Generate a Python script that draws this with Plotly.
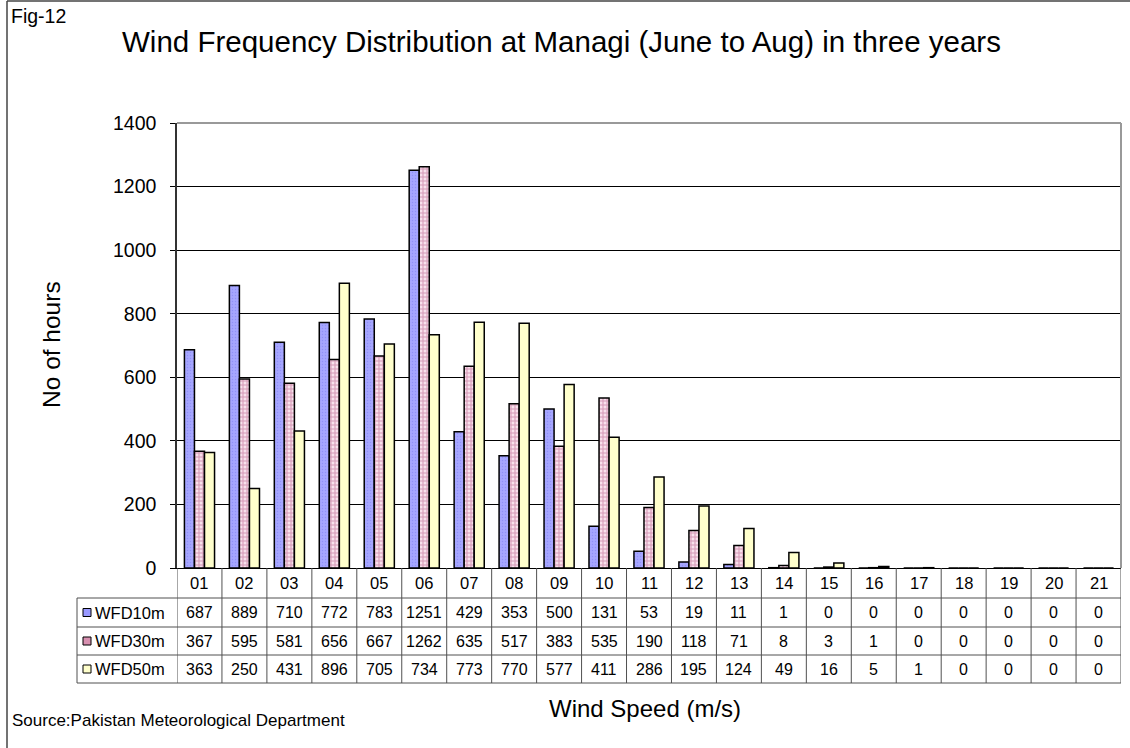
import plotly.graph_objects as go

categories = [f"{i:02d}" for i in range(1, 22)]
wfd10 = [687, 889, 710, 772, 783, 1251, 429, 353, 500, 131, 53, 19, 11, 1, 0, 0, 0, 0, 0, 0, 0]
wfd30 = [367, 595, 581, 656, 667, 1262, 635, 517, 383, 535, 190, 118, 71, 8, 3, 1, 0, 0, 0, 0, 0]
wfd50 = [363, 250, 431, 896, 705, 734, 773, 770, 577, 411, 286, 195, 124, 49, 16, 5, 1, 0, 0, 0, 0]
series_names = ["WFD10m", "WFD30m", "WFD50m"]
y_ticks = [0, 200, 400, 600, 800, 1000, 1200, 1400]

FONT = "Arial, Liberation Sans, sans-serif"
W, H = 1130, 748
L, R, T, B = 177, 1121, 123, 568
PW, PH = R - L, B - T


def px(x):
    return (x - L) / PW


def py(y):
    return (B - y) / PH


fig = go.Figure()
colors = ["#9C9CFF", "#F0C0D6", "#FFFFCC"]
swatch = ["#9999FF", "#D890B0", "#FFFFCC"]
patterns = [
    dict(shape=".", fgcolor="#7A7AF0", bgcolor="#A6A6FF", size=3, solidity=0.2),
    dict(shape="+", fgcolor="#B0507F", bgcolor="#F8E0EC", size=4, solidity=0.45),
    dict(shape=""),
]
idx = list(range(len(categories)))
for name, vals, c, p in zip(series_names, [wfd10, wfd30, wfd50], colors, patterns):
    fig.add_trace(go.Bar(
        x=idx, y=vals, name=name,
        marker=dict(color=c, line=dict(color="black", width=1.5), pattern=p),
    ))

fig.update_layout(
    width=W, height=H,
    margin=dict(l=L, r=W - R, t=T, b=H - B),
    paper_bgcolor="white", plot_bgcolor="white",
    barmode="group", bargap=0.33, bargroupgap=0,
    showlegend=False,
    font=dict(family=FONT, color="black"),
)
fig.update_xaxes(
    showticklabels=False, ticks="", showgrid=False, zeroline=False,
    showline=True, linecolor="black", linewidth=1,
    range=[-0.5, len(categories) - 0.5],
)
fig.update_yaxes(
    range=[0, 1400], tickvals=y_ticks, ticks="outside", ticklen=5, tickcolor="black",
    ticklabelstandoff=10,
    showgrid=True, gridcolor="black", gridwidth=1,
    showline=True, linecolor="#333333", linewidth=1.5,
    tickfont=dict(size=19.5, family=FONT), zeroline=False,
)

shapes = []
ann = []
grey = "#505050"
# plot area border (top / right)
shapes.append(dict(type="line", xref="paper", yref="paper", x0=0, x1=1, y0=1, y1=1,
                   line=dict(color="#999999", width=2)))
shapes.append(dict(type="line", xref="paper", yref="paper", x0=1, x1=1, y0=0, y1=1,
                   line=dict(color="#999999", width=2)))

# table geometry (pixels)
row_lines = [598, 627, 655, 683]
label_left = 77
for yl in row_lines:
    shapes.append(dict(type="line", xref="paper", yref="paper", x0=px(label_left), x1=1,
                       y0=py(yl), y1=py(yl), line=dict(color=grey, width=1)))
shapes.append(dict(type="line", xref="paper", yref="paper", x0=px(label_left), x1=px(label_left),
                   y0=py(598), y1=py(683), line=dict(color=grey, width=1)))
for i in range(len(categories) + 1):
    shapes.append(dict(type="line", xref="x", yref="paper", x0=i - 0.5, x1=i - 0.5,
                       y0=py(568), y1=py(683), line=dict(color=grey, width=1)))

# header row
for i, c in enumerate(categories):
    ann.append(dict(x=i, y=py(583), xref="x", yref="paper", text=c, showarrow=False,
                    font=dict(size=16.5, family=FONT), xanchor="center", yanchor="middle"))
# value rows
row_centers = [612.5, 641, 669]
for name, vals, sw, rc in zip(series_names, [wfd10, wfd30, wfd50], swatch, row_centers):
    for i, v in enumerate(vals):
        ann.append(dict(x=i, y=py(rc), xref="x", yref="paper", text=str(v), showarrow=False,
                        font=dict(size=16, family=FONT), xanchor="center", yanchor="middle"))
    ann.append(dict(x=px(93), y=py(rc), xref="paper", yref="paper", text=name, showarrow=False,
                    font=dict(size=16.5, family=FONT), xanchor="left", yanchor="middle"))
    shapes.append(dict(type="rect", xref="paper", yref="paper", x0=px(83), x1=px(91),
                       y0=py(rc - 4), y1=py(rc + 4), fillcolor=sw,
                       line=dict(color="black", width=1)))

# outer border (left and top visible)
shapes.append(dict(type="line", xref="paper", yref="paper", x0=px(7), x1=px(7),
                   y0=py(1), y1=py(748), line=dict(color="#444444", width=1.5)))
shapes.append(dict(type="line", xref="paper", yref="paper", x0=px(7), x1=px(1130),
                   y0=py(1), y1=py(1), line=dict(color="#444444", width=1.5)))

ann.append(dict(x=px(561), y=py(42), xref="paper", yref="paper",
                text="Wind Frequency Distribution at Managi (June to Aug) in three years",
                showarrow=False, font=dict(size=29.5, family=FONT), xanchor="center", yanchor="middle"))
ann.append(dict(x=px(9), y=py(16), xref="paper", yref="paper", text="Fig-12",
                showarrow=False, font=dict(size=19.5, family=FONT), xanchor="left", yanchor="middle"))
ann.append(dict(x=px(645), y=py(708), xref="paper", yref="paper", text="Wind Speed (m/s)",
                showarrow=False, font=dict(size=24, family=FONT), xanchor="center", yanchor="middle"))
ann.append(dict(x=px(51), y=py(345), xref="paper", yref="paper", text="No of hours", textangle=-90,
                showarrow=False, font=dict(size=24.5, family=FONT), xanchor="center", yanchor="middle"))
ann.append(dict(x=px(10), y=py(720), xref="paper", yref="paper", text="Source:Pakistan Meteorological Department",
                showarrow=False, font=dict(size=17, family=FONT), xanchor="left", yanchor="middle"))

fig.update_layout(shapes=shapes, annotations=ann)
fig.write_html("out.html", config={"displayModeBar": False},
               post_script="document.body.style.margin='0';document.body.style.overflow='hidden';")
